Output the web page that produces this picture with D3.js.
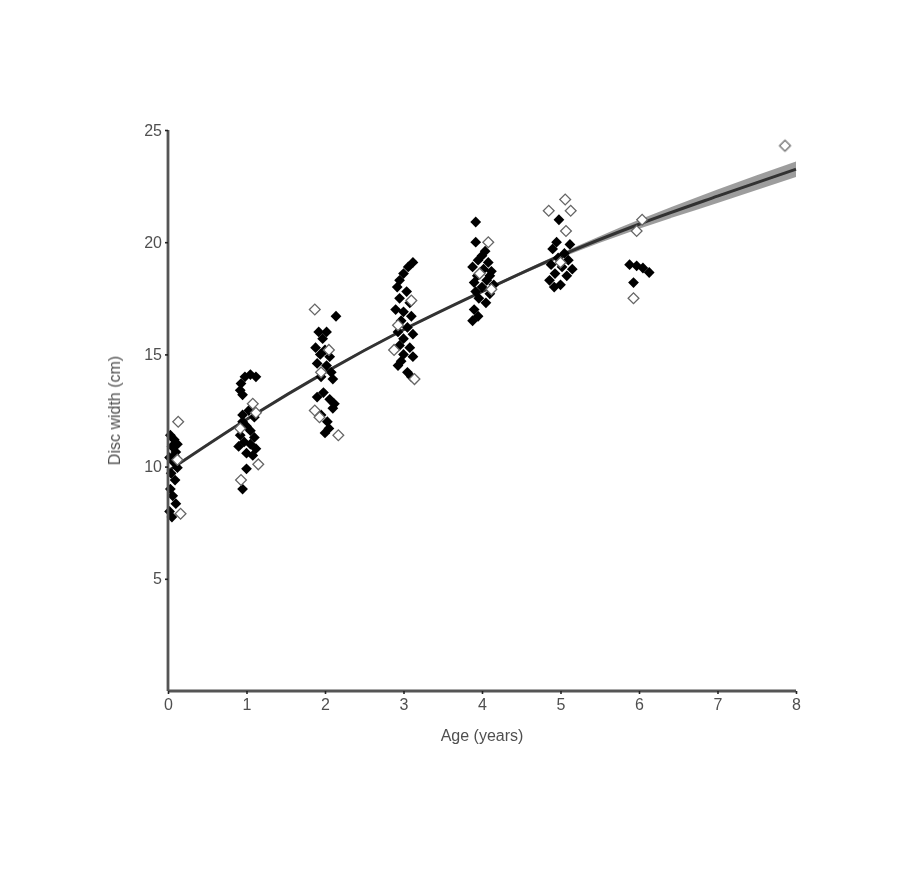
<!DOCTYPE html>
<html><head><meta charset="utf-8">
<script src="https://cdn.jsdelivr.net/npm/d3@7"></script>
<style>body{margin:0;background:#fff}svg{display:block}</style>
</head><body>
<svg id="chart" width="900" height="869"></svg>
<script>
// ---- data ----
const xTicks = [0,1,2,3,4,5,6,7,8];
const yTicks = [5,10,15,20,25];
const xLabel = "Age (years)";
const yLabel = "Disc width (cm)";

// fitted growth curve with confidence band [age, fit, lower, upper]
const fitAge   = [0, 1, 2, 3, 4, 5, 6, 7, 8];
const fitValue = [9.8, 12.1, 14.2, 16.1, 17.8, 19.4, 20.8, 22.05, 23.25];
const fitLower = [9.75, 12.05, 14.15, 16.05, 17.75, 19.3, 20.6, 21.75, 22.9];
const fitUpper = [9.85, 12.15, 14.25, 16.15, 17.85, 19.5, 21.0, 22.35, 23.6];

// filled diamonds [age, disc width]
const filledAge = [
 0.03,0.08,0.05,0.1,0.02,0.07,0.12,0.04,0.09,0.03,0.06,0.1,0.02,0.05,0.08,0.12,
 1.05,0.98,0.93,0.92,0.95,1.12,0.95,1.0,1.05,0.92,1.1,0.97,1.05,0.9,1.12,1.0,1.08,0.95,1.1,1.03,1.0,0.95,
 2.14,1.92,2.02,1.97,1.88,2.0,1.94,2.06,1.9,2.02,2.08,1.95,2.1,1.98,1.9,2.06,2.12,1.95,2.03,2.05,2.0,2.1,
 3.12,3.06,3.0,2.95,2.92,3.04,2.95,3.08,2.9,3.0,3.1,2.97,3.05,2.93,3.12,3.0,2.95,3.08,3.0,3.12,2.97,3.05,3.1,2.93,
 3.92,3.92,4.0,3.95,4.08,3.88,4.02,4.12,3.94,4.06,3.9,4.15,4.0,3.92,4.1,3.96,4.05,3.9,3.95,3.88,4.1,4.04,
 4.98,4.95,5.12,4.9,5.05,4.97,5.1,4.88,5.02,5.15,4.93,5.08,4.92,5.0,4.86,
 5.88,5.97,6.05,6.13,5.93
];
const filledWidth = [
 11.4,11.2,10.9,10.65,10.4,10.2,9.95,9.7,9.4,9.0,8.7,8.35,8.0,7.75,10.5,11.0,
 14.1,14.0,13.7,13.4,13.2,14.0,12.0,11.8,11.6,11.4,11.3,11.1,11.0,10.9,10.8,10.6,10.5,12.3,12.2,12.5,9.9,9.0,
 16.7,16.0,16.0,15.7,15.3,15.2,15.0,14.9,14.6,14.5,14.2,14.0,13.9,13.3,13.1,13.0,12.8,12.3,12.0,11.7,11.5,12.6,
 19.1,18.9,18.6,18.3,18.0,17.8,17.5,17.3,17.0,16.9,16.7,16.5,16.2,16.0,15.9,15.7,15.4,15.3,15.0,14.9,14.7,14.2,14.0,14.5,
 20.9,20.0,19.4,19.2,19.1,18.9,18.8,18.7,18.5,18.3,18.2,18.1,18.0,17.8,17.7,17.5,17.3,17.0,16.7,16.5,18.5,19.6,
 21.0,20.0,19.9,19.7,19.5,19.3,19.2,19.0,18.9,18.8,18.6,18.5,18.0,18.1,18.3,
 19.0,18.95,18.85,18.65,18.2
];

// open diamonds [age, disc width]
const openAge = [0.13,0.16,0.12, 0.93,1.15,1.08,0.92,1.12, 1.87,1.87,2.17,1.93,2.05,1.95,
                 2.88,3.14,3.1,2.93, 4.08,3.97,4.12, 5.06,4.85,5.13,5.07,5.0, 6.04,5.97,5.93, 7.86];
const openWidth = [12.0,7.9,10.3, 9.4,10.1,12.8,11.7,12.4, 17.0,12.5,11.4,12.2,15.2,14.2,
                   15.2,13.9,17.4,16.3, 20.0,18.6,17.9, 21.9,21.4,21.4,20.5,19.1, 21.0,20.5,17.5, 24.3];

// ---- drawing ----
const svg = d3.select("#chart");
const defs = svg.append("defs");
defs.append("filter").attr("id", "soft").append("feGaussianBlur").attr("stdDeviation", 0.55);

const x = d3.scaleLinear().domain([0, 8]).range([168, 796]);
const y = d3.scaleLinear().domain([0, 25]).range([691, 130]);
const axisColor = "#555";
const font = "'Liberation Sans', Arial, sans-serif";

const g = svg.append("g").attr("filter", "url(#soft)");

// confidence band
const band = fitAge.map((a, i) => ({a, lo: fitLower[i], hi: fitUpper[i], v: fitValue[i]}));
g.append("path").datum(band)
  .attr("d", d3.area().x(d => x(d.a)).y0(d => y(d.lo)).y1(d => y(d.hi)).curve(d3.curveMonotoneX))
  .attr("fill", "#8c8c8c").attr("opacity", 0.85);
g.append("path").datum(band)
  .attr("d", d3.line().x(d => x(d.a)).y(d => y(d.v)).curve(d3.curveMonotoneX))
  .attr("fill", "none").attr("stroke", "#333").attr("stroke-width", 3);

const sym = d3.symbol().type(d3.symbolSquare).size(58);

// filled points
g.selectAll("path.filled").data(filledAge.map((a, i) => [a, filledWidth[i]]))
  .join("path").attr("class", "filled")
  .attr("d", sym)
  .attr("transform", d => `translate(${x(d[0])},${y(d[1])}) rotate(45)`)
  .attr("fill", "#000");

// open points
g.selectAll("path.open").data(openAge.map((a, i) => [a, openWidth[i]]))
  .join("path").attr("class", "open")
  .attr("d", sym)
  .attr("transform", d => `translate(${x(d[0])},${y(d[1])}) rotate(45)`)
  .attr("fill", "#fff").attr("stroke", "#666").attr("stroke-width", 1.3);

// axes
const axG = svg.append("g").attr("filter", "url(#soft)");
const xAxis = axG.append("g").attr("transform", `translate(0,${y(0)})`)
  .call(d3.axisBottom(x).tickValues(xTicks).tickFormat(d3.format("d")).tickSize(3).tickPadding(5));
const yAxis = axG.append("g").attr("transform", `translate(${x(0)},0)`)
  .call(d3.axisLeft(y).tickValues(yTicks).tickFormat(d3.format("d")).tickSize(3).tickPadding(3));
[xAxis, yAxis].forEach(ax => {
  ax.select(".domain").attr("stroke", axisColor).attr("stroke-width", 2.8);
  ax.selectAll(".tick line").attr("stroke", "#222").attr("stroke-width", 1.6);
  ax.selectAll(".tick text").attr("fill", "#505050")
    .style("font-family", font).style("font-size", "16px");
});
xAxis.select(".domain").attr("d", `M${x(0)},0H${x(8)}`);
yAxis.select(".domain").attr("d", `M0,${y(0)}V${y(25)}`);

axG.append("text").attr("x", 482).attr("y", 741).attr("text-anchor", "middle")
  .attr("fill", "#505050").style("font-family", font).style("font-size", "16px")
  .text(xLabel);
axG.append("text").attr("transform", `translate(120,${y(12.5)}) rotate(-90)`).attr("text-anchor", "middle")
  .attr("fill", "#505050").style("font-family", font).style("font-size", "16px")
  .text(yLabel);
</script>
</body></html>
